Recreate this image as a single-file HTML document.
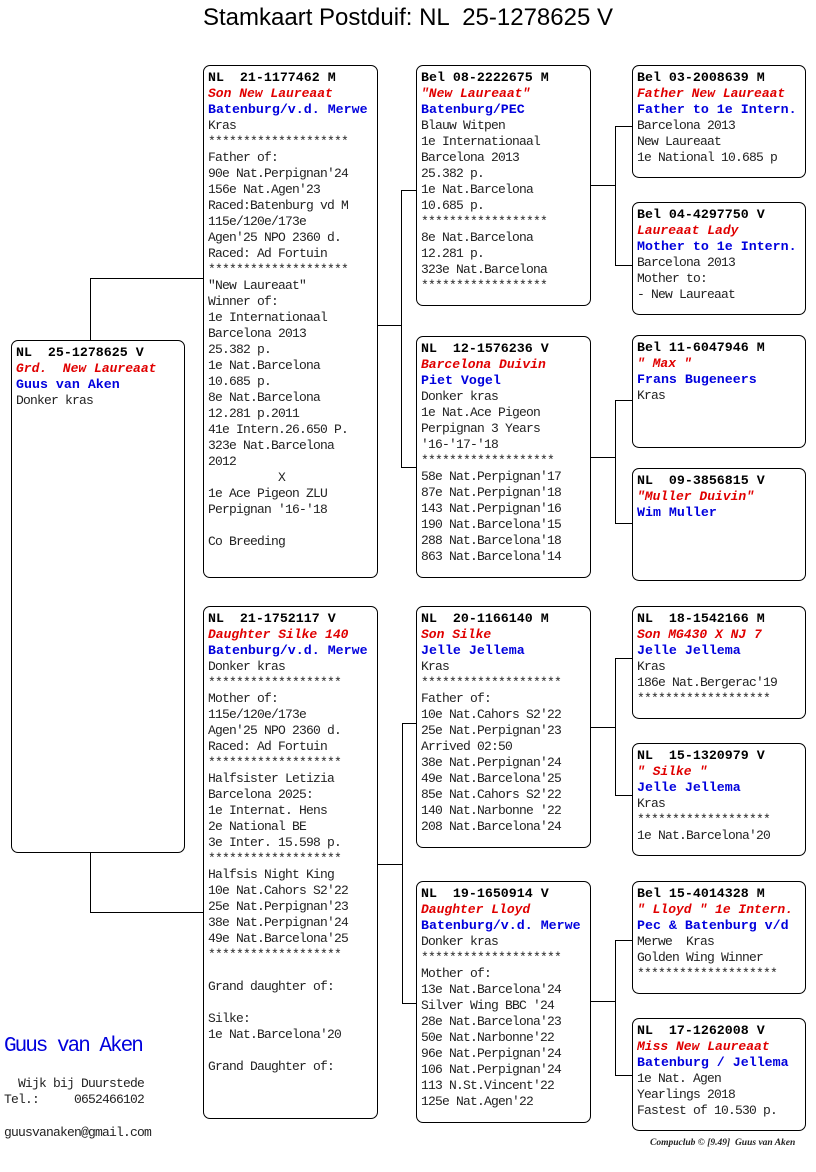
<!DOCTYPE html>
<html><head><meta charset="utf-8"><style>
*{margin:0;padding:0;box-sizing:border-box}
body{width:816px;height:1172px;background:#fff;position:relative;overflow:hidden;font-family:"Liberation Mono","DejaVu Sans Mono",monospace;color:#222}
.b{position:absolute;border:1.3px solid #000;border-radius:7px;padding:4px 0 0 4px;font-size:13px;letter-spacing:-0.8px;line-height:16px;white-space:pre;overflow:hidden}
.h{font-weight:bold;font-size:13.3px;color:#000;letter-spacing:0px}
.r{color:#e00000;font-style:italic;font-weight:bold;font-size:13px;letter-spacing:0px}
.u{color:#0000dd;font-weight:bold;font-size:13.3px;letter-spacing:0px}
.l{position:absolute;background:#000}
.t{position:absolute;white-space:pre}
</style></head><body>
<div class="t" style="left:0;width:816px;top:4px;text-align:center;font-family:'Liberation Sans',sans-serif;font-size:24px;color:#000;">Stamkaart Postduif: NL  25-1278625 V</div>

<!-- connectors -->
<div class="l" style="left:90px;top:278px;width:1.3px;height:62px"></div>
<div class="l" style="left:90px;top:278px;width:113px;height:1.3px"></div>
<div class="l" style="left:90px;top:852px;width:1.3px;height:61px"></div>
<div class="l" style="left:90px;top:912px;width:113px;height:1.3px"></div>

<div class="l" style="left:377px;top:325px;width:24px;height:1.3px"></div>
<div class="l" style="left:401px;top:190px;width:1.3px;height:278px"></div>
<div class="l" style="left:401px;top:190px;width:15px;height:1.3px"></div>
<div class="l" style="left:401px;top:467px;width:15px;height:1.3px"></div>

<div class="l" style="left:377px;top:864px;width:25px;height:1.3px"></div>
<div class="l" style="left:402px;top:723px;width:1.3px;height:281px"></div>
<div class="l" style="left:402px;top:723px;width:14px;height:1.3px"></div>
<div class="l" style="left:402px;top:1003px;width:14px;height:1.3px"></div>

<div class="l" style="left:590px;top:185px;width:25px;height:1.3px"></div>
<div class="l" style="left:615px;top:126px;width:1.3px;height:140px"></div>
<div class="l" style="left:615px;top:126px;width:17px;height:1.3px"></div>
<div class="l" style="left:615px;top:265px;width:17px;height:1.3px"></div>

<div class="l" style="left:590px;top:457px;width:25px;height:1.3px"></div>
<div class="l" style="left:615px;top:400px;width:1.3px;height:124px"></div>
<div class="l" style="left:615px;top:400px;width:17px;height:1.3px"></div>
<div class="l" style="left:615px;top:523px;width:17px;height:1.3px"></div>

<div class="l" style="left:590px;top:727px;width:25px;height:1.3px"></div>
<div class="l" style="left:615px;top:658px;width:1.3px;height:138px"></div>
<div class="l" style="left:615px;top:658px;width:17px;height:1.3px"></div>
<div class="l" style="left:615px;top:795px;width:17px;height:1.3px"></div>

<div class="l" style="left:590px;top:1001px;width:25px;height:1.3px"></div>
<div class="l" style="left:615px;top:940px;width:1.3px;height:136px"></div>
<div class="l" style="left:615px;top:940px;width:17px;height:1.3px"></div>
<div class="l" style="left:615px;top:1075px;width:17px;height:1.3px"></div>

<!-- root -->
<div class="b" style="left:11px;top:340px;width:174px;height:513px"><span class="h">NL  25-1278625 V</span>
<span class="r">Grd.  New Laureaat</span>
<span class="u">Guus van Aken</span>
Donker kras</div>

<!-- col2 -->
<div class="b" style="left:203px;top:65px;width:175px;height:513px"><span class="h">NL  21-1177462 M</span>
<span class="r">Son New Laureaat</span>
<span class="u">Batenburg/v.d. Merwe</span>
Kras
********************
Father of:
90e Nat.Perpignan'24
156e Nat.Agen'23
Raced:Batenburg vd M
115e/120e/173e
Agen'25 NPO 2360 d.
Raced: Ad Fortuin
********************
"New Laureaat"
Winner of:
1e Internationaal
Barcelona 2013
25.382 p.
1e Nat.Barcelona
10.685 p.
8e Nat.Barcelona
12.281 p.2011
41e Intern.26.650 P.
323e Nat.Barcelona
2012
          X
1e Ace Pigeon ZLU
Perpignan '16-'18

Co Breeding</div>

<div class="b" style="left:203px;top:606px;width:175px;height:513px"><span class="h">NL  21-1752117 V</span>
<span class="r">Daughter Silke 140</span>
<span class="u">Batenburg/v.d. Merwe</span>
Donker kras
*******************
Mother of:
115e/120e/173e
Agen'25 NPO 2360 d.
Raced: Ad Fortuin
*******************
Halfsister Letizia
Barcelona 2025:
1e Internat. Hens
2e National BE
3e Inter. 15.598 p.
*******************
Halfsis Night King
10e Nat.Cahors S2'22
25e Nat.Perpignan'23
38e Nat.Perpignan'24
49e Nat.Barcelona'25
*******************

Grand daughter of:

Silke:
1e Nat.Barcelona'20

Grand Daughter of:</div>

<!-- col3 -->
<div class="b" style="left:416px;top:65px;width:175px;height:241px"><span class="h">Bel 08-2222675 M</span>
<span class="r">"New Laureaat"</span>
<span class="u">Batenburg/PEC</span>
Blauw Witpen
1e Internationaal
Barcelona 2013
25.382 p.
1e Nat.Barcelona
10.685 p.
******************
8e Nat.Barcelona
12.281 p.
323e Nat.Barcelona
******************</div>

<div class="b" style="left:416px;top:336px;width:175px;height:242px"><span class="h">NL  12-1576236 V</span>
<span class="r">Barcelona Duivin</span>
<span class="u">Piet Vogel</span>
Donker kras
1e Nat.Ace Pigeon
Perpignan 3 Years
'16-'17-'18
*******************
58e Nat.Perpignan'17
87e Nat.Perpignan'18
143 Nat.Perpignan'16
190 Nat.Barcelona'15
288 Nat.Barcelona'18
863 Nat.Barcelona'14</div>

<div class="b" style="left:416px;top:606px;width:175px;height:242px"><span class="h">NL  20-1166140 M</span>
<span class="r">Son Silke</span>
<span class="u">Jelle Jellema</span>
Kras
********************
Father of:
10e Nat.Cahors S2'22
25e Nat.Perpignan'23
Arrived 02:50
38e Nat.Perpignan'24
49e Nat.Barcelona'25
85e Nat.Cahors S2'22
140 Nat.Narbonne '22
208 Nat.Barcelona'24</div>

<div class="b" style="left:416px;top:881px;width:175px;height:242px"><span class="h">NL  19-1650914 V</span>
<span class="r">Daughter Lloyd</span>
<span class="u">Batenburg/v.d. Merwe</span>
Donker kras
********************
Mother of:
13e Nat.Barcelona'24
Silver Wing BBC '24
28e Nat.Barcelona'23
50e Nat.Narbonne'22
96e Nat.Perpignan'24
106 Nat.Perpignan'24
113 N.St.Vincent'22
125e Nat.Agen'22</div>

<!-- col4 -->
<div class="b" style="left:632px;top:65px;width:174px;height:113px"><span class="h">Bel 03-2008639 M</span>
<span class="r">Father New Laureaat</span>
<span class="u">Father to 1e Intern.</span>
Barcelona 2013
New Laureaat
1e National 10.685 p</div>

<div class="b" style="left:632px;top:202px;width:174px;height:113px"><span class="h">Bel 04-4297750 V</span>
<span class="r">Laureaat Lady</span>
<span class="u">Mother to 1e Intern.</span>
Barcelona 2013
Mother to:
- New Laureaat</div>

<div class="b" style="left:632px;top:335px;width:174px;height:113px"><span class="h">Bel 11-6047946 M</span>
<span class="r">" Max "</span>
<span class="u">Frans Bugeneers</span>
Kras</div>

<div class="b" style="left:632px;top:468px;width:174px;height:113px"><span class="h">NL  09-3856815 V</span>
<span class="r">"Muller Duivin"</span>
<span class="u">Wim Muller</span></div>

<div class="b" style="left:632px;top:606px;width:174px;height:113px"><span class="h">NL  18-1542166 M</span>
<span class="r">Son MG430 X NJ 7</span>
<span class="u">Jelle Jellema</span>
Kras
186e Nat.Bergerac'19
*******************</div>

<div class="b" style="left:632px;top:743px;width:174px;height:113px"><span class="h">NL  15-1320979 V</span>
<span class="r">" Silke "</span>
<span class="u">Jelle Jellema</span>
Kras
*******************
1e Nat.Barcelona'20</div>

<div class="b" style="left:632px;top:881px;width:174px;height:113px"><span class="h">Bel 15-4014328 M</span>
<span class="r">" Lloyd " 1e Intern.</span>
<span class="u">Pec &amp; Batenburg v/d</span>
Merwe  Kras
Golden Wing Winner
********************</div>

<div class="b" style="left:632px;top:1018px;width:174px;height:113px"><span class="h">NL  17-1262008 V</span>
<span class="r">Miss New Laureaat</span>
<span class="u">Batenburg / Jellema</span>
1e Nat. Agen
Yearlings 2018
Fastest of 10.530 p.</div>

<!-- footer -->
<div class="t" style="left:4px;top:1035px;font-size:21px;color:#0000dd;font-family:'Liberation Mono',monospace;letter-spacing:-2px">Guus van Aken</div>
<div class="t" style="left:4px;top:1076px;font-size:13px;letter-spacing:-0.8px;line-height:16px">  Wijk bij Duurstede
Tel.:     0652466102</div>
<div class="t" style="left:4px;top:1125px;font-size:13px;letter-spacing:-0.8px">guusvanaken@gmail.com</div>
<div class="t" style="left:650px;top:1138px;font-size:9.5px;font-style:italic;font-weight:bold;font-family:'Liberation Serif',serif">Compuclub © [9.49]  Guus van Aken</div>
</body></html>
